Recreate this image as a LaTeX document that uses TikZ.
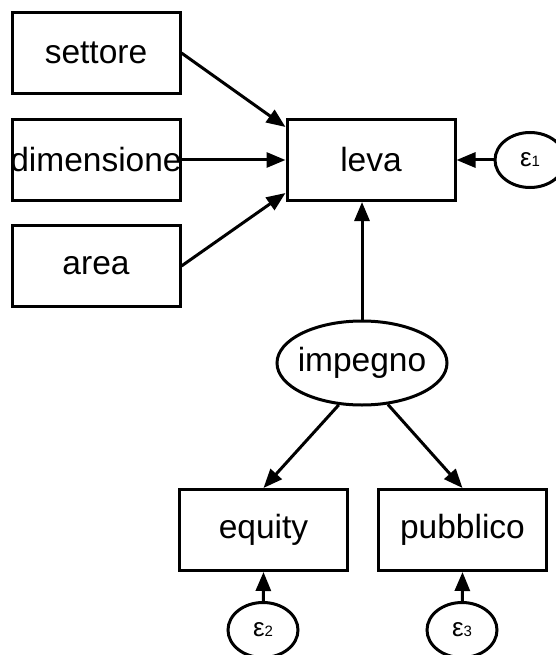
\documentclass[tikz,border=0pt]{standalone}
\usepackage{fontspec}
\setmainfont{Liberation Sans}
\usetikzlibrary{arrows.meta,shapes.geometric,calc}
\begin{document}
\begin{tikzpicture}[x=1pt,y=-1pt,
  every node/.style={inner sep=0pt},
  box/.style={draw,line width=3pt,rectangle,minimum width=168pt,minimum height=81pt,font=\fontsize{33.5}{33.5}\selectfont},
  lat/.style={draw,line width=3pt,ellipse,minimum width=170pt,minimum height=84pt,font=\fontsize{33.5}{33.5}\selectfont},
  err/.style={draw,line width=3pt,ellipse,minimum width=70pt,minimum height=55pt},
  conn/.style={line width=3pt,-{Triangle[length=19pt,width=15pt]}}]
\useasboundingbox (0,0) rectangle (556,655);
\newcommand{\eps}[1]{\makebox[0pt][c]{{\fontsize{26}{26}\selectfont ε}{\fontsize{15}{15}\selectfont #1}}}
\node[box] (settore) at (96,53) {settore};
\node[box] (dimensione) at (96,160) {\makebox[0pt][c]{dimensione}};
\node[box] (area) at (96,266) {area};
\node[box] (leva) at (371,160) {leva};
\node[err] (e1) at (530,160) {\eps{1}};
\node[lat] (impegno) at (362,363) {\makebox[0pt][c]{impegno}};
\node[box] (equity) at (263.5,530) {equity};
\node[box] (pubblico) at (462.5,530) {pubblico};
\node[err] (e2) at (263,630) {\eps{2}};
\node[err] (e3) at (462,630) {\eps{3}};
\draw[conn] (settore.east) -- ($(leva.west)+(0,-33)$);
\draw[conn] (dimensione.east) -- (leva.west);
\draw[conn] (area.east) -- ($(leva.west)+(0,33)$);
\draw[conn] (e1) -- (leva.east);
\draw[conn] (impegno.north) -- (impegno.north |- leva.south);
\draw[conn] (impegno.241) -- (equity.north);
\draw[conn] (impegno.302) -- (pubblico.north);
\draw[conn] (e2) -- (equity.south);
\draw[conn] (e3) -- (pubblico.south);
\end{tikzpicture}
\end{document}
